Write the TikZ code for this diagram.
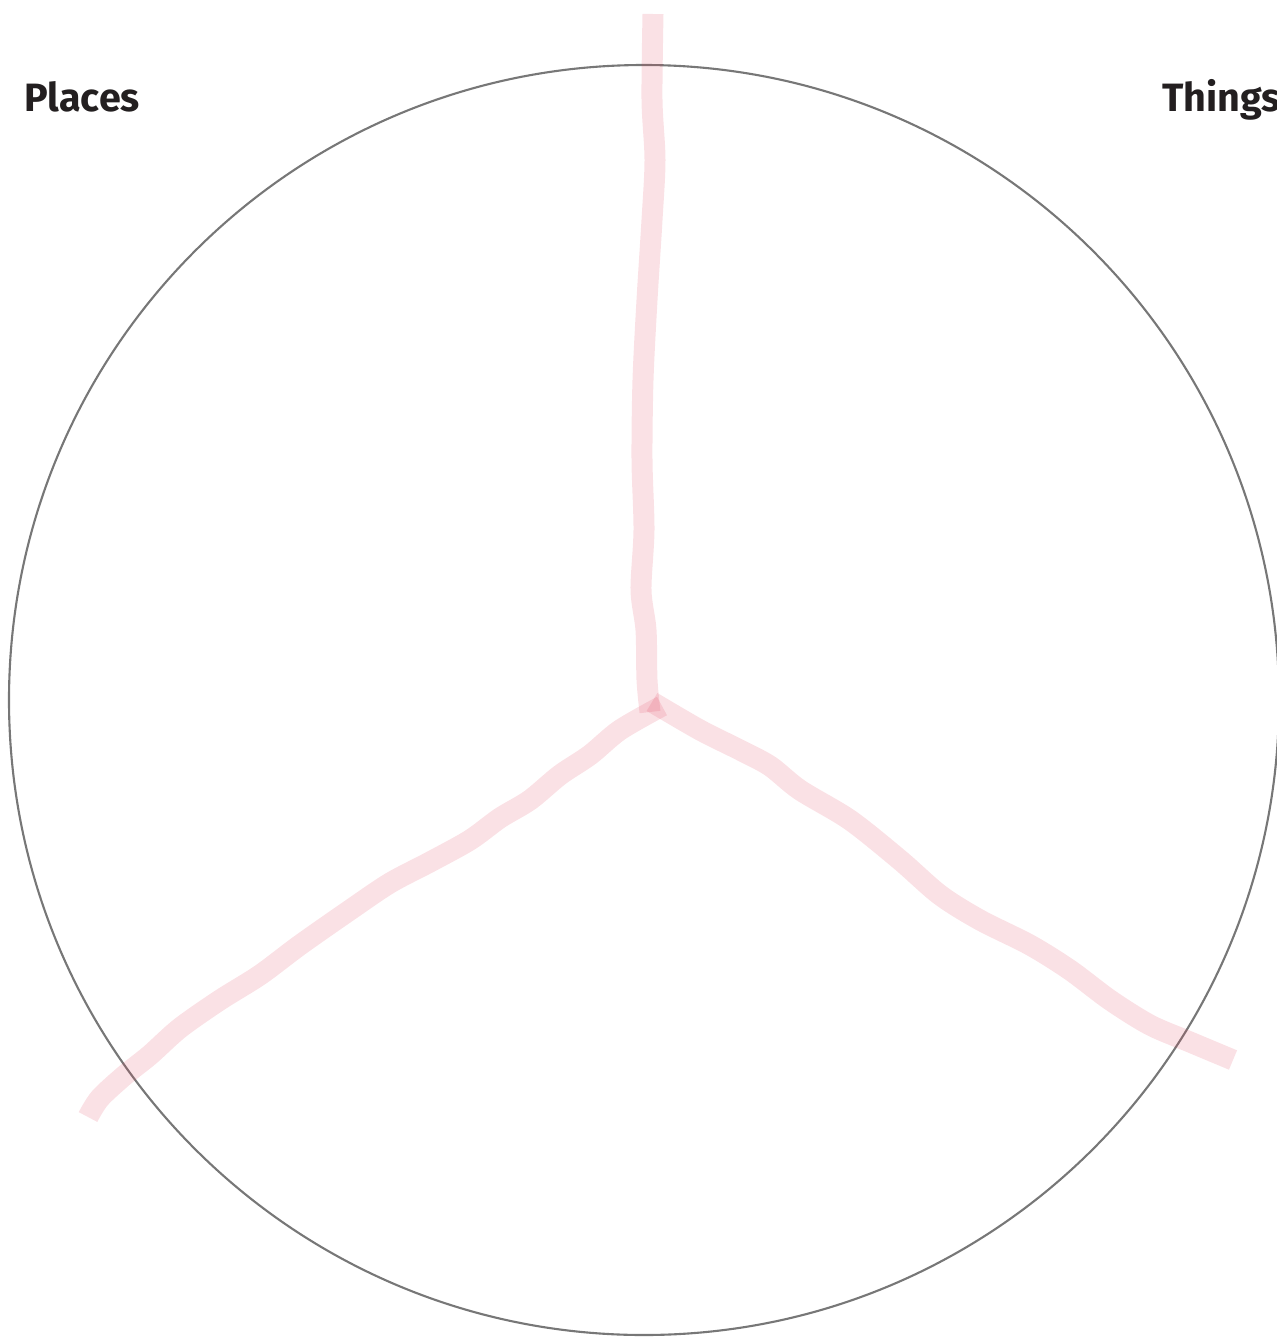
\documentclass[tikz,border=0pt]{standalone}
\usepackage{fontspec}
\setmainfont{Fira Sans}
\usepackage{tikz}
\definecolor{ringGray}{HTML}{777777}
\definecolor{strokePink}{RGB}{222,55,82}
\definecolor{textDark}{HTML}{231F20}

\begin{document}
\begin{tikzpicture}[
  x=0.02cm, y=-0.02cm,
  ring/.style={draw=ringGray, line width=1.2pt},
  marker/.style={draw=strokePink, draw opacity=0.15, line width=0.42cm,
    line join=round, line cap=butt},
  heading/.style={anchor=base west, inner sep=0pt, font=\fontsize{22.5}{26}\selectfont\bfseries, text=textDark},
]
\useasboundingbox (0,0) rectangle (1277,1339);

% Outer circle
\coordinate (centre) at (644,700);
\draw[ring] (centre) circle[radius=635*0.02cm];

% Hand-drawn dividers
\draw[marker] plot[smooth, tension=0.5] coordinates {
  (653,14) (652,100) (655,160) (652,220) (647,300) (643,380) (642,460)
  (644,530) (641,590) (646,630) (647,680) (650,712)};
\draw[marker] plot[smooth, tension=0.5] coordinates {
  (652,702) (700,730) (740,750) (770,766) (800,790) (850,820) (900,860)
  (940,895) (980,920) (1030,945) (1070,970) (1110,1000) (1150,1025)
  (1190,1042) (1233,1060)};
\draw[marker] plot[smooth, tension=0.5] coordinates {
  (662,706) (620,730) (590,755) (560,775) (530,800) (500,818) (470,840)
  (430,862) (390,883) (350,910) (300,945) (260,975) (220,1000) (180,1028)
  (150,1055) (125,1075) (100,1098) (88,1117)};

% Category labels
\node[heading] (places) at (24,111) {Places};
\node[heading] (things) at (1162,111) {Things};
\end{tikzpicture}
\end{document}
